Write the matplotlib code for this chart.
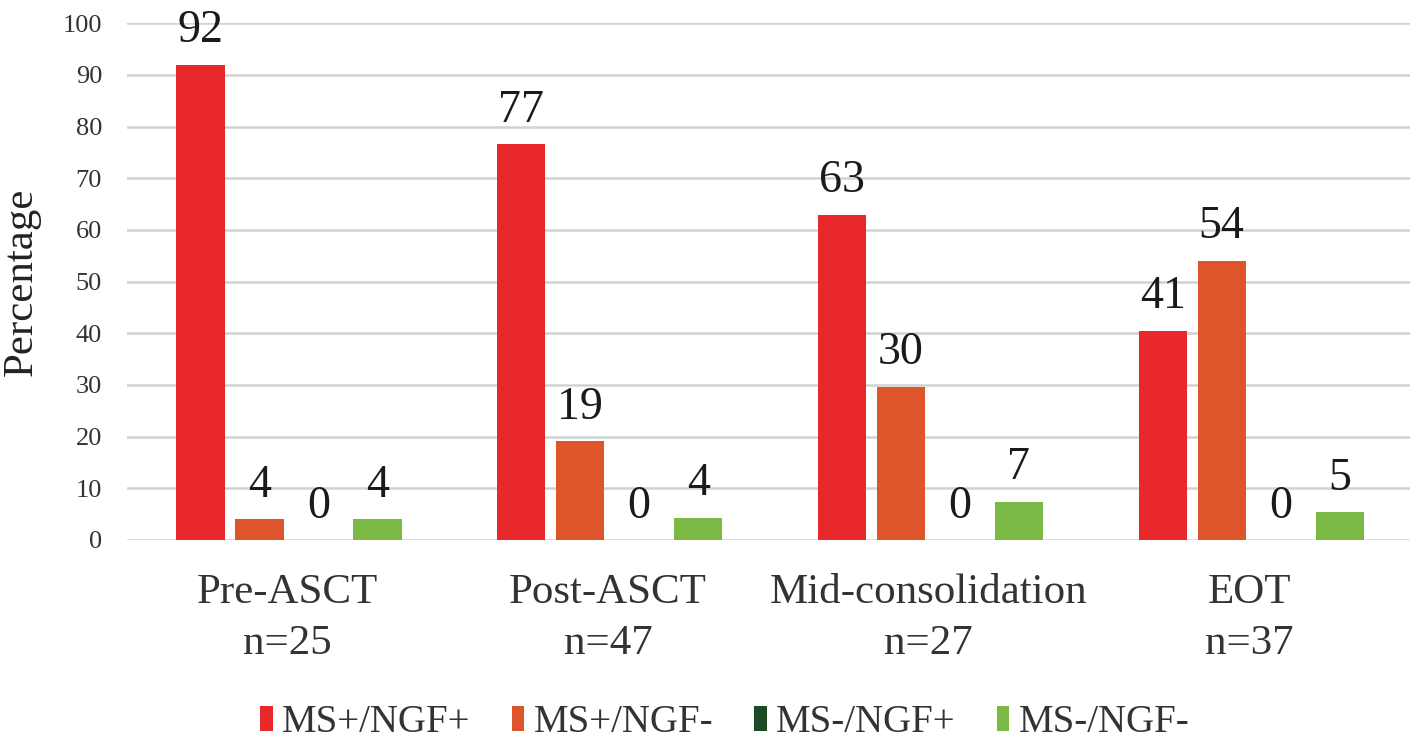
import numpy as np
import matplotlib.pyplot as plt
from matplotlib.patches import Patch

plt.rcParams['font.family'] = ['Liberation Serif', 'DejaVu Serif']

# time points and sample sizes
stages = ['Pre-ASCT', 'Post-ASCT', 'Mid-consolidation', 'EOT']
n_pat = [25, 47, 27, 37]

# percentage of patients in each MS/NGF category
ms_pos_ngf_pos = [92.00, 76.60, 62.96, 40.54]
ms_pos_ngf_neg = [4.00, 19.15, 29.63, 54.05]
ms_neg_ngf_pos = [0.0, 0.0, 0.0, 0.0]
ms_neg_ngf_neg = [4.00, 4.26, 7.41, 5.41]

series = ['MS+/NGF+', 'MS+/NGF-', 'MS-/NGF+', 'MS-/NGF-']
colours = ['#e8282a', '#de552b', '#1b4a24', '#7ab943']
vals = [ms_pos_ngf_pos, ms_pos_ngf_neg, ms_neg_ngf_pos, ms_neg_ngf_neg]

fig = plt.figure(figsize=(14.27, 7.5), dpi=100)
ax = fig.add_axes([0.089, 0.28, 0.899, 0.689])

x = np.arange(len(stages))
step = 0.184
width = 0.150
for j, (name, col, v) in enumerate(zip(series, colours, vals)):
    pos = x + (j - 1.5) * step + 0.005
    ax.bar(pos, v, width=width, color=col, zorder=3)
    for px, val in zip(pos, v):
        ax.annotate(f'{val:.0f}', (px, val), xytext=(0, 9),
                    textcoords='offset points', ha='center', va='bottom',
                    fontsize=33, color='#1a1a1a')

ax.set_xlim(-0.5, 3.5)
ax.set_ylim(0, 100)
ax.set_yticks(range(0, 101, 10))
ax.yaxis.grid(True, color='#d2d2d2', linewidth=1.8, zorder=0)
ax.set_axisbelow(True)
for s in ['top', 'right', 'left', 'bottom']:
    ax.spines[s].set_visible(False)
ax.tick_params(axis='y', length=0, labelsize=19, pad=18, colors='#333333')
ax.tick_params(axis='x', length=0, labelsize=31, pad=24, colors='#333333')
ax.set_xticks(x)
ax.set_xticklabels([f'{s}\nn={n}' for s, n in zip(stages, n_pat)],
                   linespacing=1.42)
ax.set_ylabel('Percentage', fontsize=31, color='#222222', labelpad=16)

handles = [Patch(facecolor=c, label=s) for s, c in zip(series, colours)]
fig.legend(handles=handles, loc='lower center', ncol=4, frameon=False,
           fontsize=28, bbox_to_anchor=(0.508, -0.035), handlelength=0.32,
           handleheight=0.62, handletextpad=0.25, columnspacing=1.05,
           labelcolor='#333333')

fig.savefig('out.png', dpi=100)
